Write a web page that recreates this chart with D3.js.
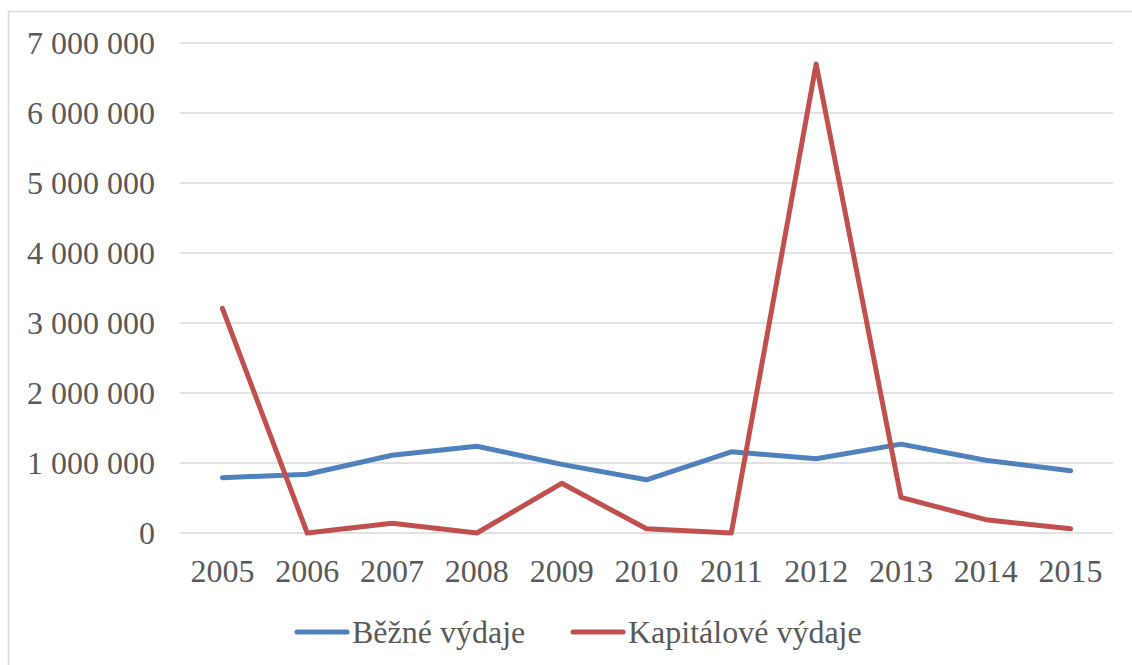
<!DOCTYPE html>
<html>
<head>
<meta charset="utf-8">
<script src="https://cdn.jsdelivr.net/npm/d3@7"></script>
<style>
  body { margin: 0; background: #fff; }
  text { font-family: "Liberation Serif", "Times New Roman", serif; fill: #595959; }
</style>
</head>
<body>
<div id="chart"></div>
<script>
var years = ["2005", "2006", "2007", "2008", "2009", "2010", "2011", "2012", "2013", "2014", "2015"];
var bezne = [790000, 840000, 1110000, 1240000, 980000, 760000, 1160000, 1060000, 1270000, 1040000, 890000];
var kapitalove = [3210000, 0, 140000, 0, 710000, 60000, 0, 6700000, 510000, 190000, 60000];
var yTicks = [0, 1000000, 2000000, 3000000, 4000000, 5000000, 6000000, 7000000];
var seriesNames = ["Běžné výdaje", "Kapitálové výdaje"];
var colors = ["#4f81bd", "#c0504d"];

(function () {
    var width = 1132,
        height = 665;

    var svg = d3.select("#chart")
        .append("svg")
        .attr("width", width)
        .attr("height", height);

    // outer chart frame
    svg.append("rect")
        .attr("x", 8.5)
        .attr("y", 11.5)
        .attr("width", 1140)
        .attr("height", 670)
        .attr("fill", "none")
        .attr("stroke", "#d9d9d9")
        .attr("stroke-width", 1.5);

    var x = d3.scaleBand().domain(years).range([180, 1113]);
    var y = d3.scaleLinear().domain([0, 7000000]).range([533, 43]);

    var fmt = function (v) {
        return d3.format(",")(v).replace(/,/g, " ");
    };

    // gridlines
    svg.selectAll(".grid")
        .data(yTicks)
        .enter().append("line")
        .attr("class", "grid")
        .attr("x1", 180)
        .attr("x2", 1113)
        .attr("y1", function (d) { return y(d); })
        .attr("y2", function (d) { return y(d); })
        .attr("stroke", "#d9d9d9")
        .attr("stroke-width", 1.5);

    // y axis labels
    var yAxis = d3.axisLeft(y).tickValues(yTicks).tickFormat(fmt).tickSize(0).tickPadding(0);
    svg.append("g")
        .attr("transform", "translate(155,0)")
        .call(yAxis)
        .call(function (g) { g.select(".domain").remove(); })
        .selectAll("text")
        .style("font-family", "'Liberation Serif', 'Times New Roman', serif")
        .style("font-size", "32px")
        .attr("fill", "#595959");

    // x axis labels
    var xAxis = d3.axisBottom(x).tickSize(0).tickPadding(0);
    svg.append("g")
        .attr("transform", "translate(0,559)")
        .call(xAxis)
        .call(function (g) { g.select(".domain").remove(); })
        .selectAll("text")
        .style("font-family", "'Liberation Serif', 'Times New Roman', serif")
        .style("font-size", "32px")
        .attr("fill", "#595959");

    var line = d3.line()
        .x(function (d, i) { return x(years[i]) + x.bandwidth() / 2; })
        .y(function (d) { return y(d); });

    [bezne, kapitalove].forEach(function (s, i) {
        svg.append("path")
            .datum(s)
            .attr("d", line)
            .attr("fill", "none")
            .attr("stroke", colors[i])
            .attr("stroke-width", 5)
            .attr("stroke-linejoin", "round")
            .attr("stroke-linecap", "round");
    });

    // legend
    var legendX = [297, 573];
    var legend = svg.selectAll(".legend")
        .data(seriesNames)
        .enter().append("g")
        .attr("class", "legend")
        .attr("transform", function (d, i) { return "translate(" + legendX[i] + ",632)"; });

    legend.append("line")
        .attr("x1", 0)
        .attr("x2", 50)
        .attr("stroke", function (d, i) { return colors[i]; })
        .attr("stroke-width", 5)
        .attr("stroke-linecap", "round");

    legend.append("text")
        .attr("x", 55)
        .attr("dy", "0.35em")
        .style("font-size", "32px")
        .text(function (d) { return d; });
})();
</script>
</body>
</html>
